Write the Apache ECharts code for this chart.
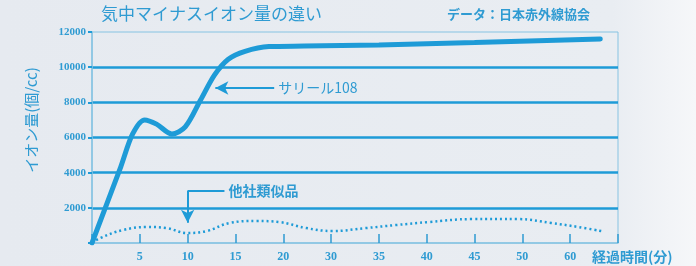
<!DOCTYPE html>
<html>
<head>
<meta charset="utf-8">
<script src="https://cdn.jsdelivr.net/npm/echarts@6/dist/echarts.min.js"></script>
<style>
  html, body { margin: 0; padding: 0; }
  #chart { width: 696px; height: 266px; }
</style>
</head>
<body>
<div id="chart"></div>
<script>
// x軸は目盛の位置（スロット番号）で持つ。目盛ラベルは等間隔だが値は不規則
const xTickLabels = ['', '5', '10', '15', '20', '30', '35', '40', '45', '50', '60', '']
const yTicks = [0, 2000, 4000, 6000, 8000, 10000, 12000]

// サリール108 [スロット位置, 個/cc]
const salilData = [
  [0, 0], [0.6, 4320], [0.85, 6200], [1.1, 7000], [1.35, 6760], [1.67, 6200],
  [1.95, 6600], [2.27, 8130], [2.56, 9550], [2.85, 10450], [3.2, 10900],
  [3.7, 11170], [4.44, 11200], [6, 11260], [8, 11400], [10.63, 11600]
]
// 他社類似品
const otherData = [
  [0, 0], [0.17, 280], [0.65, 740], [1.15, 910], [1.56, 850], [1.98, 570],
  [2.4, 680], [2.88, 1140], [3.44, 1250], [3.92, 1190], [4.48, 850], [5.02, 680],
  [5.73, 850], [6.35, 1020], [7.04, 1190], [7.94, 1360], [8.92, 1360],
  [9.6, 1140], [10.17, 910], [10.65, 680]
]

const blue = '#1e9bd7'
const textBlue = '#2f9bd2'
const axisBlue = '#86c3e2'
const numFont = "'Liberation Serif', 'DejaVu Serif', serif"

const chart = echarts.init(document.getElementById('chart'))
chart.setOption({
  animation: false,
  backgroundColor: new echarts.graphic.LinearGradient(0, 0, 1, 0, [
    { offset: 0, color: '#e6eaf0' },
    { offset: 0.88, color: '#e9edf2' },
    { offset: 1, color: '#f6f7f9' }
  ]),
  title: [
    {
      text: '気中マイナスイオン量の違い',
      left: 96, top: 0,
      textStyle: { fontFamily: 'Noto Sans CJK JP', fontSize: 17, fontWeight: 'normal', color: textBlue }
    },
    {
      text: 'データ：日本赤外線協会',
      left: 442, top: 3,
      textStyle: { fontFamily: 'Noto Sans CJK JP', fontSize: 13, fontWeight: 'bold', color: textBlue }
    }
  ],
  graphic: [
    {
      type: 'text',
      x: 31, y: 120,
      rotation: Math.PI / 2,
      style: {
        text: 'イオン量(個/cc)',
        font: '15px "Noto Sans CJK JP"',
        fill: textBlue,
        align: 'center',
        verticalAlign: 'middle'
      }
    }
  ],
  grid: {
    left: 92, right: 78, top: 32, bottom: 23,
    show: true,
    borderColor: axisBlue,
    borderWidth: 1
  },
  xAxis: {
    type: 'value',
    min: 0, max: 11, interval: 1,
    name: '経過時間(分)',
    nameLocation: 'end',
    nameGap: -26,
    nameTextStyle: {
      fontFamily: 'Noto Sans CJK JP', fontSize: 14, fontWeight: 'bold', color: textBlue,
      align: 'left', verticalAlign: 'top', padding: [7, 0, 0, 0]
    },
    axisLine: { lineStyle: { color: axisBlue, width: 1.5 } },
    axisTick: { show: true, inside: true, length: 9, lineStyle: { color: textBlue, width: 1.5 } },
    axisLabel: {
      margin: 8,
      fontFamily: numFont, fontSize: 12, fontWeight: 'bold', color: textBlue,
      formatter: v => xTickLabels[v] || ''
    },
    splitLine: { show: false }
  },
  yAxis: {
    type: 'value',
    min: yTicks[0], max: yTicks[yTicks.length - 1], interval: 2000,
    axisLine: { show: true, lineStyle: { color: axisBlue, width: 1.5 } },
    axisTick: { show: true, length: 4, lineStyle: { color: blue, width: 2 } },
    axisLabel: {
      margin: 6,
      fontFamily: numFont, fontSize: 11, fontWeight: 'bold', color: textBlue,
      formatter: v => (v === 0 ? '' : String(v))
    },
    splitLine: {
      show: true, showMinLine: false, showMaxLine: false,
      lineStyle: { color: blue, width: 2.5 }
    }
  },
  series: [
    {
      name: 'サリール108',
      type: 'line',
      data: salilData,
      smooth: 0.3,
      showSymbol: false,
      lineStyle: { color: blue, width: 5, cap: 'round' },
      markLine: {
        silent: true,
        symbol: ['none', 'arrow'],
        symbolSize: [10, 13],
        label: { show: false },
        lineStyle: { color: blue, width: 2, type: 'solid' },
        data: [
          [{ coord: [3.81, 8815] }, { coord: [2.58, 8815] }]
        ]
      },
      markPoint: {
        silent: true,
        symbol: 'circle',
        symbolSize: 0,
        label: {
          show: true, position: 'right', distance: 4,
          fontFamily: 'Noto Sans CJK JP', fontSize: 14, color: textBlue,
          formatter: 'サリール108'
        },
        data: [{ coord: [3.81, 8815] }]
      }
    },
    {
      name: '他社類似品',
      type: 'line',
      data: otherData,
      smooth: 0.4,
      showSymbol: false,
      lineStyle: { color: blue, width: 2.5, type: [2, 3], cap: 'butt' },
      markLine: {
        silent: true,
        label: { show: false },
        lineStyle: { color: blue, width: 2, type: 'solid' },
        data: [
          [{ coord: [2.77, 2974], symbol: 'none' }, { coord: [2.0, 2974], symbol: 'none' }],
          [{ coord: [2.0, 2974], symbol: 'none' }, { coord: [2.0, 1150], symbol: 'arrow', symbolSize: [10, 13] }]
        ]
      },
      markPoint: {
        silent: true,
        symbol: 'circle',
        symbolSize: 0,
        label: {
          show: true, position: 'right', distance: 4,
          fontFamily: 'Noto Sans CJK JP', fontSize: 14, fontWeight: 'bold', color: textBlue,
          formatter: '他社類似品'
        },
        data: [{ coord: [2.77, 2974] }]
      }
    }
  ]
})
</script>
</body>
</html>
